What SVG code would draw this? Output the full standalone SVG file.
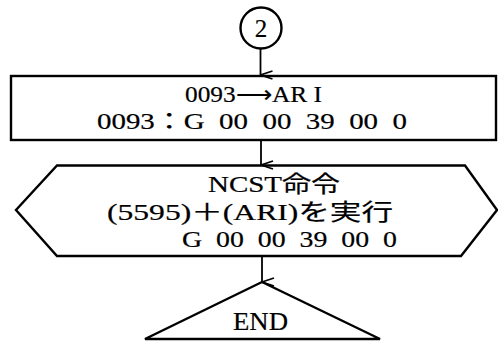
<svg xmlns="http://www.w3.org/2000/svg" width="498" height="343" viewBox="0 0 498 343">
<style>
.s{fill:none;stroke:#000;stroke-width:2.4}
.t{font-family:"Liberation Serif","Noto Sans CJK JP",serif;font-size:23px;fill:#000;stroke:#000;stroke-width:0.2}
.c{fill:none;stroke:#000;stroke-width:1.8}
</style>
<defs>
<marker id="a" markerWidth="10" markerHeight="14" refX="5" refY="13" orient="auto" markerUnits="userSpaceOnUse" viewBox="0 0 10 14">
<path d="M1,1 L5,13 L9,1" fill="none" stroke="#000" stroke-width="1.7"/>
</marker>
</defs>
<rect width="498" height="343" fill="#fff"/>
<g id="connectors">
<line class="c" x1="260.5" y1="48" x2="260.5" y2="75" marker-end="url(#a)"/>
<line class="c" x1="261" y1="140" x2="261" y2="165" marker-end="url(#a)"/>
<line class="c" x1="262" y1="256" x2="262" y2="282" marker-end="url(#a)"/>
</g>
<g id="n1">
<circle class="s" cx="261" cy="28" r="20.5"/>
<text class="t" x="261" y="36.5" text-anchor="middle" style="font-size:25px">2</text>
</g>
<g id="n2">
<rect class="s" x="11" y="76" width="485" height="64"/>
<text class="t" x="185" y="102" textLength="137" lengthAdjust="spacingAndGlyphs">0093⟶AR I</text>
<text class="t" x="97" y="129" textLength="310" lengthAdjust="spacingAndGlyphs" xml:space="preserve">0093：G  00  00  39  00  0</text>
</g>
<g id="n3">
<polygon class="s" points="57,165.5 465,165.5 497,210 461,256 57,256 16,210"/>
<text class="t" x="208" y="192" textLength="132" lengthAdjust="spacingAndGlyphs">NCST命令</text>
<text class="t" x="107" y="220" textLength="286" lengthAdjust="spacingAndGlyphs">(5595)＋(ARI)を実行</text>
<text class="t" x="182" y="247" textLength="215" lengthAdjust="spacingAndGlyphs" xml:space="preserve">G  00  00  39  00  0</text>
</g>
<g id="n4">
<polygon class="s" points="262,282 380,339 145,339"/>
<text class="t" x="233" y="330" textLength="55" lengthAdjust="spacingAndGlyphs" style="font-size:25px">END</text>
</g>
</svg>
